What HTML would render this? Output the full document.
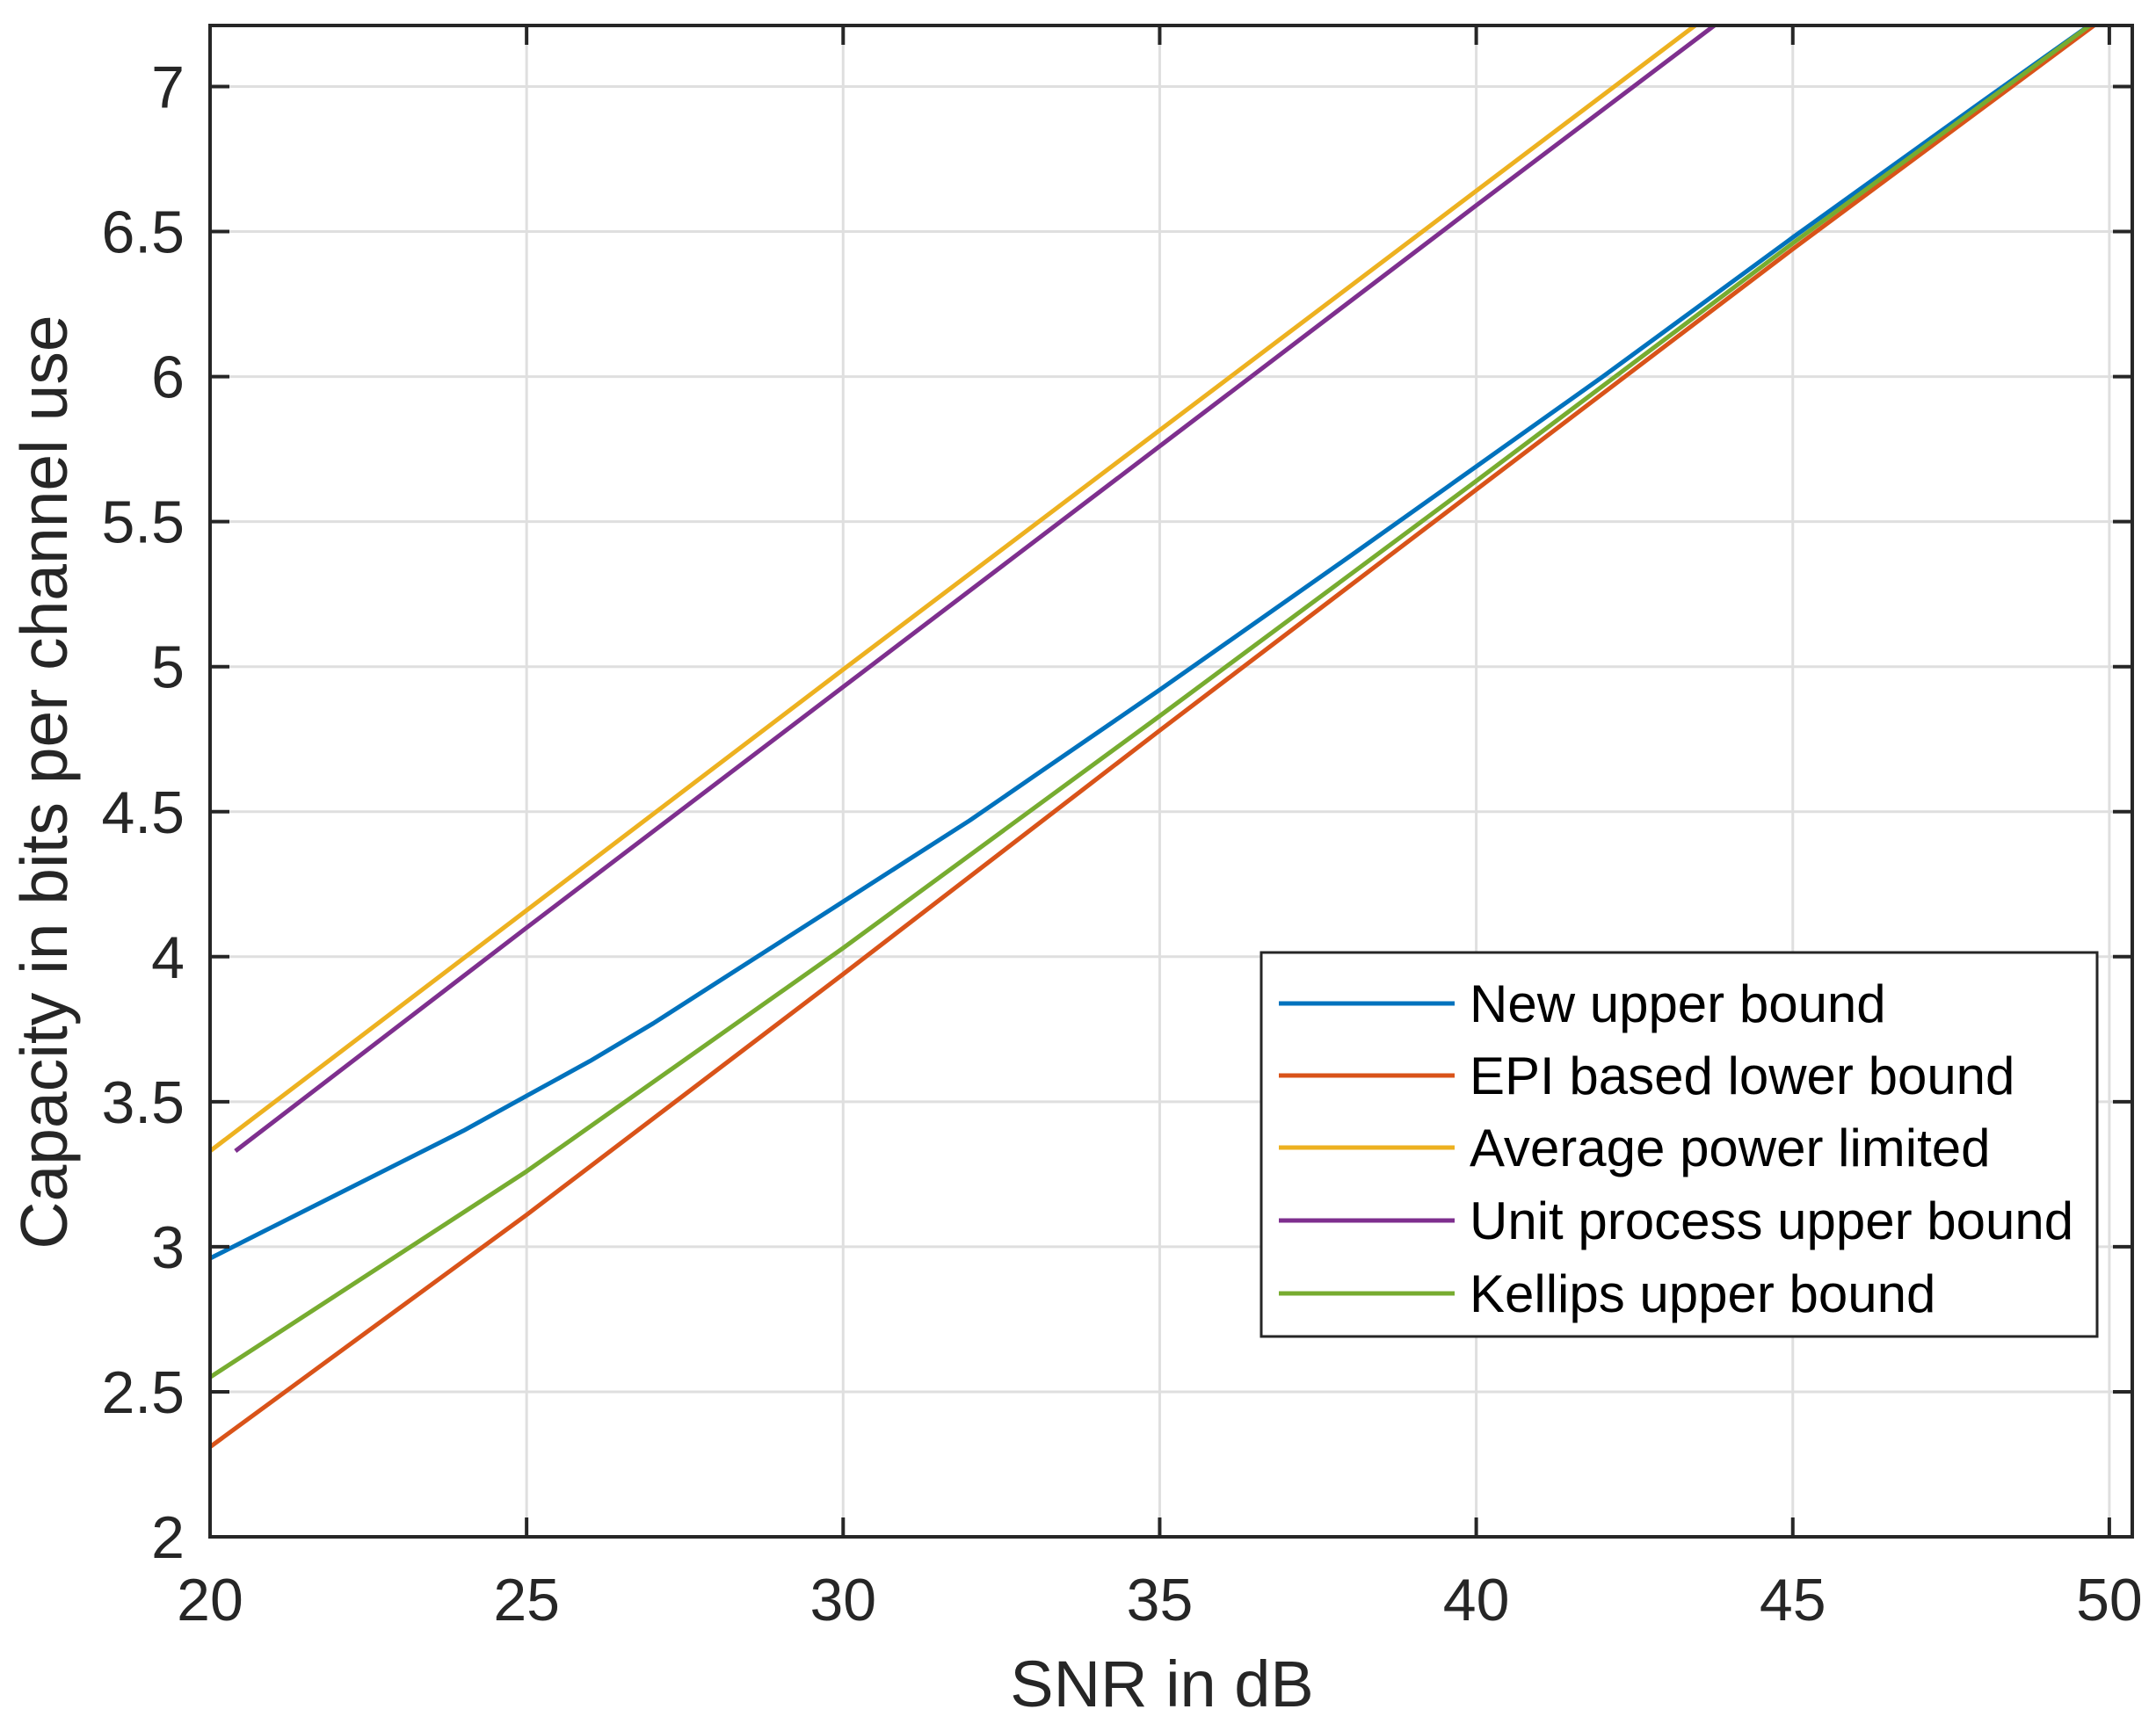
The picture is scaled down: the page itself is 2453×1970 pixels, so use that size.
<!DOCTYPE html>
<html><head><meta charset="utf-8"><style>
html,body{margin:0;padding:0;background:#fff;}
svg{display:block;font-family:"Liberation Sans",Arial,sans-serif;}
</style></head><body>
<svg id="chart" width="2453" height="1970" viewBox="0 0 2453 1970" xmlns="http://www.w3.org/2000/svg">
<defs><clipPath id="pc"><rect x="239" y="29" width="2187" height="1720"/></clipPath></defs>
<g id="grid"></g>
<g id="series" clip-path="url(#pc)"></g>
<g id="axes"></g>
<text x="1322" y="1942" font-size="74" text-anchor="middle" fill="#262626">SNR in dB</text>
<text transform="translate(76,890) rotate(-90)" font-size="75" text-anchor="middle" fill="#262626">Capacity in bits per channel use</text>
<g id="legend"></g>
</svg>
<script>
const xTicks=[20,25,30,35,40,45,50];
const yTicks=[2,2.5,3,3.5,4,4.5,5,5.5,6,6.5,7];
const yTickLabels=["2","2.5","3","3.5","4","4.5","5","5.5","6","6.5","7"];
const seriesNames=["New upper bound","EPI based lower bound","Average power limited","Unit process upper bound","Kellips upper bound"];
const newUpperX=[20,21,22,23,24,25,26,27,28,29,30,31,32,33,35,38,40,42,45,48,50];
const newUpperY=[2.96,3.07,3.18,3.29,3.40,3.52,3.64,3.77,3.91,4.05,4.19,4.33,4.47,4.62,4.92,5.38,5.69,6.0,6.48,6.95,7.26];
const epiX=[20,25,30,35,40,45,50];
const epiY=[2.31,3.11,3.94,4.78,5.61,6.44,7.25];
const avgX=[20,30,40,44];
const avgY=[3.33,4.99,6.64,7.30];
const unitX=[20.4,25,30,35,40,44];
const unitY=[3.33,4.10,4.93,5.76,6.59,7.25];
const kelX=[20,25,30,35,40,45,50];
const kelY=[2.55,3.26,4.03,4.83,5.64,6.46,7.26];
const colors=["#0072bd","#d95319","#edb120","#7e2f8e","#77ac30"];

const X0=239,X1=2426,Y0=29,Y1=1749;
const px=x=>239+(x-20)*72.03;
const py=y=>1749-(y-2)*330.1;
const NS="http://www.w3.org/2000/svg";
function mk(t,a,p){const e=document.createElementNS(NS,t);for(const k in a)e.setAttribute(k,a[k]);p.appendChild(e);return e;}
const grid=document.getElementById('grid'),axes=document.getElementById('axes'),ser=document.getElementById('series'),leg=document.getElementById('legend');
xTicks.forEach(v=>{
 const g=mk('line',{x1:px(v),x2:px(v),y1:Y0,y2:Y1,stroke:'#dfdfdf','stroke-width':3},grid);
 
 
 const t1=mk('line',{x1:px(v),x2:px(v),y1:Y1,y2:Y1-22,stroke:'#262626','stroke-width':4},axes);
 
 
 const t2=mk('line',{x1:px(v),x2:px(v),y1:Y0,y2:Y0+22,stroke:'#262626','stroke-width':4},axes);
 
 
 const l=mk('text',{x:px(v),y:1844,'font-size':68,'text-anchor':'middle',fill:'#262626'},axes);
 l.textContent=String(v);
 
 
});
yTicks.forEach((v,i)=>{
 const g=mk('line',{x1:X0,x2:X1,y1:py(v),y2:py(v),stroke:'#dfdfdf','stroke-width':3},grid);
 
 
 const t1=mk('line',{x1:X0,x2:X0+22,y1:py(v),y2:py(v),stroke:'#262626','stroke-width':4},axes);
 
 
 const t2=mk('line',{x1:X1,x2:X1-22,y1:py(v),y2:py(v),stroke:'#262626','stroke-width':4},axes);
 
 
 const l=mk('text',{x:210,y:py(v)+24,'font-size':68,'text-anchor':'end',fill:'#262626'},axes);
 l.textContent=yTickLabels[i];
 
 
});
const fr=mk('rect',{x:X0,y:Y0,width:X1-X0,height:Y1-Y0,fill:'none',stroke:'#262626','stroke-width':4},axes);


const data=[[newUpperX,newUpperY],[epiX,epiY],[avgX,avgY],[unitX,unitY],[kelX,kelY]];
data.forEach((d,i)=>{
 const pts=d[0].map((x,j)=>px(x).toFixed(1)+','+py(d[1][j]).toFixed(1)).join(' ');
 const p=mk('polyline',{points:pts,fill:'none',stroke:colors[i],'stroke-width':5,'stroke-linejoin':'round'},ser);
 
 
});
const lb=mk('rect',{x:1435,y:1084,width:951,height:437,fill:'#fff',stroke:'#262626','stroke-width':3},leg);


const ly=[1142,1224,1306,1389,1472];
seriesNames.forEach((n,i)=>{
 const l=mk('line',{x1:1455,x2:1655,y1:ly[i],y2:ly[i],stroke:colors[i],'stroke-width':5},leg);
 
 
 const t=mk('text',{x:1672,y:ly[i]+21,'font-size':60,fill:'#000'},leg);
 t.textContent=n;
 
 
});
</script>
</body></html>
